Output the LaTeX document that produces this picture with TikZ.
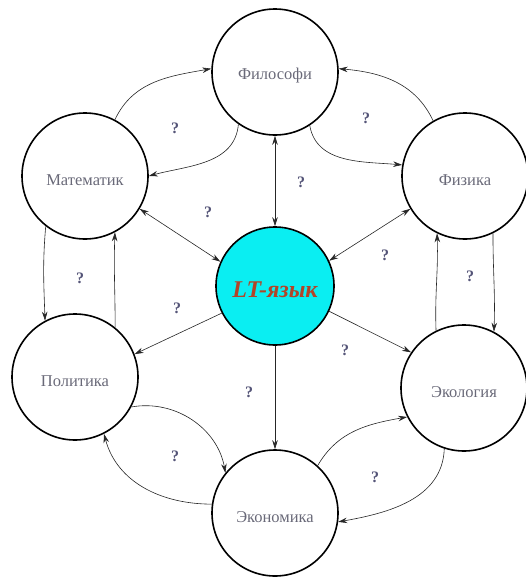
\documentclass[tikz,border=0pt]{standalone}
\usepackage{fontspec}
\setmainfont{Liberation Serif}
\usetikzlibrary{arrows.meta}
\definecolor{namegray}{RGB}{105,105,120}
\definecolor{qcol}{RGB}{85,85,120}
\definecolor{ltred}{RGB}{178,68,40}
\definecolor{ltcyan}{RGB}{10,238,242}
\newcommand{\lowtext}[1]{\raisebox{0pt}[\dimexpr\height+8pt\relax][\depth]{#1}}
\tikzset{
  bubble/.style={circle,draw=black,line width=1.6pt,minimum size=126pt,inner sep=0pt,
    font=\fontsize{16.5}{18}\selectfont,text=namegray},
  arr/.style={-{Stealth[length=9pt,width=5.5pt]},line width=0.6pt,draw=black!85},
  darr/.style={{Stealth[length=9pt,width=5.5pt]}-{Stealth[length=9pt,width=5.5pt]},line width=0.6pt,draw=black!85},
  qm/.style={font=\bfseries\fontsize{16}{18}\selectfont,text=qcol}
}
\begin{document}
\begin{tikzpicture}[x=1pt,y=1pt]
\useasboundingbox (0,0) rectangle (526,-579);
\node[bubble] (fil) at (275,-72) {\lowtext{Философи}};
\node[bubble] (mat) at (85,-176) {\lowtext{Математик}};
\node[bubble] (fiz) at (465,-176) {\lowtext{Физика}};
\node[bubble,fill=ltcyan,minimum size=118pt,font=\bfseries\itshape\fontsize{24}{26}\selectfont,text=ltred] (lt) at (275,-286) {\lowtext{LT-язык}};
\node[bubble] (pol) at (75,-377) {\lowtext{Политика}};
\node[bubble] (eco) at (275,-513) {\lowtext{Экономика}};
\node[bubble] (ekl) at (464,-388) {\lowtext{Экология}};

% straight connectors
\draw[darr] (fil.270) -- (lt.90);
\draw[darr] (mat.-31) -- (lt.156);
\draw[darr] (fiz.211) -- (lt.25);
\draw[arr] (lt.207) -- (pol.21);
\draw[arr] (lt.-25) -- (ekl.146);
\draw[arr] (lt.270) -- (eco.90);

% curved connectors
\draw[arr] (mat.62) to[out=65,in=190] (fil.177);
\draw[arr] (fil.235) to[out=265,in=15] (mat.0);
\draw[arr] (fiz.120) to[out=115,in=-5] (fil.3);
\draw[arr] (fil.303) to[out=280,in=175] (fiz.170);
\draw[arr] (mat.232) to[out=265,in=92] (pol.118);
\draw[arr] (pol.51) to[out=90,in=268] (mat.298);
\draw[arr] (fiz.296) to[out=270,in=88] (ekl.62);
\draw[arr] (ekl.116) to[out=92,in=272] (fiz.244);
\draw[arr] (pol.332) to[out=10,in=100] (eco.141);
\draw[arr] (eco.172) to[out=180,in=285] (pol.297);
\draw[arr] (eco.48) to[out=60,in=190] (ekl.207);
\draw[arr] (ekl.252) to[out=268,in=10] (eco.352);

% question marks
\node[qm] (q1) at (175,-128) {?};
\node[qm] (q2) at (366,-118) {?};
\node[qm] (q3) at (301,-182) {?};
\node[qm] (q4) at (208,-212) {?};
\node[qm] (q5) at (80,-278) {?};
\node[qm] (q6) at (470,-276) {?};
\node[qm] (q7) at (385,-255) {?};
\node[qm] (q8) at (177,-308) {?};
\node[qm] (q9) at (345,-350) {?};
\node[qm] (q10) at (249,-392) {?};
\node[qm] (q11) at (175,-456) {?};
\node[qm] (q12) at (375,-477) {?};
\end{tikzpicture}
\end{document}
